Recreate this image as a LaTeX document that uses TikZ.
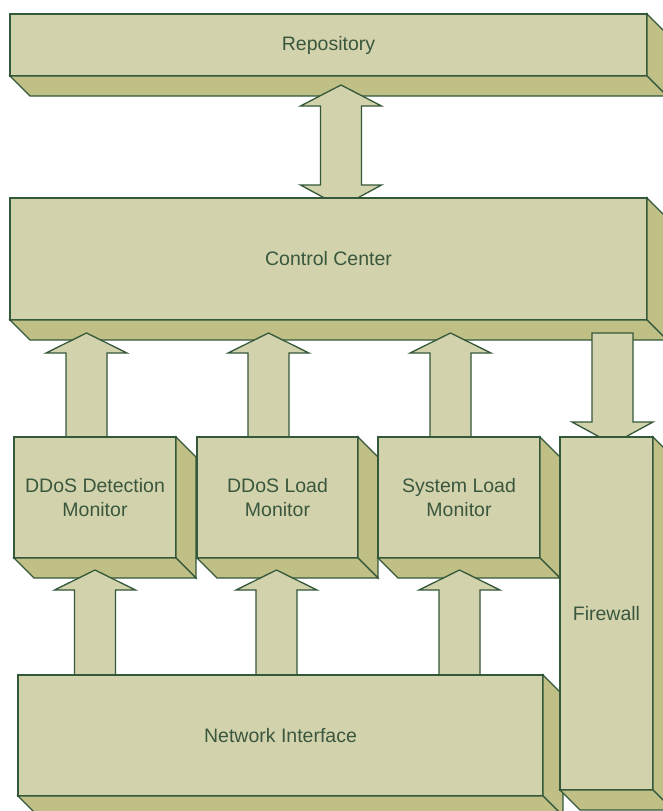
\documentclass[tikz,border=0pt]{standalone}
\usepackage{fontspec}
\setmainfont{Liberation Sans}
\usetikzlibrary{calc}
\definecolor{facec}{HTML}{D2D3AC}
\definecolor{sidec}{HTML}{BFBF86}
\definecolor{linec}{HTML}{34583A}
\definecolor{textc}{HTML}{3A573E}
\tikzset{
  front/.style={draw=linec, fill=facec, line width=1.3pt, inner sep=0pt, outer sep=0pt,
    anchor=north west, text=textc, align=center, font=\fontsize{19.5}{24}\selectfont},
  sideface/.style={draw=linec, fill=sidec, line width=1.3pt, line join=miter},
  blockarrow/.style={draw=linec, fill=facec, line width=1.3pt, line join=miter},
}
% box: name, x1, y1, x2, y2, text
\newcommand\cubebox[6]{%
  \node[front, minimum width=#4-#2, minimum height=#5-#3] (#1) at (#2,#3) {#6};
  \draw[sideface] (#1.north east) -- ++(20,20) -- ($(#1.south east)+(20,20)$) -- (#1.south east) -- cycle;
  \draw[sideface] (#1.south west) -- (#1.south east) -- ++(20,20) -- ($(#1.south west)+(20,20)$) -- cycle;
}
% up arrow: cx, tip, headbase, bottom
\newcommand\blkup[4]{%
  \draw[blockarrow] (#1-20.5,#4) -- (#1-20.5,#3) -- (#1-40.5,#3) -- (#1,#2) -- (#1+40.5,#3) -- (#1+20.5,#3) -- (#1+20.5,#4) -- cycle;}
% down arrow: cx, top, headbase, tip
\newcommand\blkdown[4]{%
  \draw[blockarrow] (#1-20.5,#2) -- (#1-20.5,#3) -- (#1-40.5,#3) -- (#1,#4) -- (#1+40.5,#3) -- (#1+20.5,#3) -- (#1+20.5,#2) -- cycle;}
\begin{document}
\begin{tikzpicture}[x=1pt,y=-1pt]
\useasboundingbox (0,0) rectangle (663,811);
\clip (0,0) rectangle (663,811);
% Repository
\cubebox{repo}{10}{14}{647}{76}{Repository}
% double arrow repository <-> control center
\draw[blockarrow] (320.5,106) -- (300.5,106) -- (341,85) -- (381.5,106) -- (361.5,106)
  -- (361.5,185) -- (381.5,185) -- (341,207) -- (300.5,185) -- (320.5,185) -- cycle;
% Control Center
\cubebox{cc}{10}{198}{647}{320}{Control Center}
% arrows monitors -> control center
\blkup{86.5}{333}{353}{437}
\blkup{268.5}{333}{353}{437}
\blkup{450.5}{333}{353}{437}
% arrow control center -> firewall
\blkdown{612.5}{333}{422}{444}
% monitors
\cubebox{ddm}{14}{437}{176}{558}{DDoS Detection\\Monitor}
\cubebox{dlm}{197}{437}{358}{558}{DDoS Load\\Monitor}
\cubebox{slm}{378}{437}{540}{558}{System Load\\Monitor}
% arrows network interface -> monitors
\blkup{95}{570}{590}{675}
\blkup{276.5}{570}{590}{675}
\blkup{459.5}{570}{590}{675}
% Network Interface
\cubebox{ni}{18}{675}{543}{796}{Network Interface}
% Firewall
\cubebox{fw}{560}{437}{653}{790}{Firewall}
\end{tikzpicture}
\end{document}
